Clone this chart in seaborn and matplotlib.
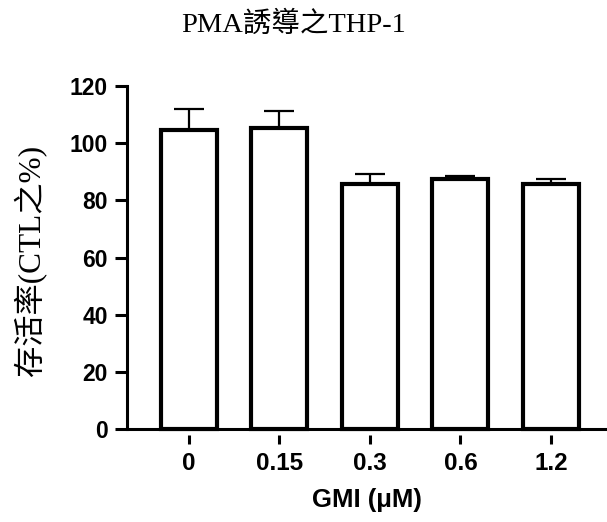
import pandas as pd
import matplotlib
matplotlib.use("Agg")
import matplotlib.pyplot as plt
import seaborn as sns

# Values
doses = ['0', '0.15', '0.3', '0.6', '1.2']
viability = [104.6, 105.2, 85.6, 87.5, 85.6]
sd = [7.4, 6.2, 3.5, 1.1, 1.9]

data = pd.DataFrame({'dose': doses, 'viability': viability})

sns.set_style("ticks")
plt.rcParams['axes.linewidth'] = 2.2
plt.rcParams['axes.edgecolor'] = 'black'
plt.rcParams['xtick.color'] = 'black'
plt.rcParams['ytick.color'] = 'black'
plt.rcParams['text.color'] = 'black'
plt.rcParams['axes.labelcolor'] = 'black'

fig = plt.figure(figsize=(6.07, 5.22), dpi=100)
ax = fig.add_axes([0.209, 0.1672, 0.791, 0.668])

sns.barplot(x='dose', y='viability', data=data, order=doses, color='white',
            edgecolor='black', linewidth=3, width=0.62, errorbar=None, ax=ax, zorder=3)

# upper error bars only, drawn behind the bars like Prism does
ax.errorbar(range(len(doses)), viability, yerr=[[0] * len(sd), sd], fmt='none',
            ecolor='black', elinewidth=1.6, capsize=11, capthick=1.6, zorder=2)

ax.set_xlim(-0.685, 4.62)
ax.set_ylim(-2, 120)
ax.set_yticks(range(0, 121, 20))
ax.spines['left'].set_bounds(0, 120)
ax.spines['bottom'].set_visible(False)
ax.spines['top'].set_visible(False)
ax.spines['right'].set_visible(False)
ax.axhline(0, xmin=0, xmax=1, color='black', lw=2.2, clip_on=False, zorder=4)

ax.tick_params(axis='y', length=8.6, width=2.2, pad=5)
ax.tick_params(axis='x', length=6.5, width=2.2, pad=6)
for lab in ax.get_yticklabels():
    lab.set_fontfamily('Liberation Sans')
    lab.set_fontweight('bold')
    lab.set_fontsize(16.5)
for lab in ax.get_xticklabels():
    lab.set_fontfamily('Liberation Sans')
    lab.set_fontweight('bold')
    lab.set_fontsize(17.5)

ax.set_xlabel('GMI (μM)', fontfamily='Liberation Sans', fontweight='bold', fontsize=18.5, labelpad=9)
ax.set_ylabel('存活率(CTL之%)', family=['Liberation Serif', 'Noto Sans CJK TC'], fontsize=22.5, labelpad=16)
fig.text(0.484, 0.952, 'PMA誘導之THP-1', family=['Liberation Serif', 'Noto Sans CJK TC'],
         fontsize=20.5, ha='center', va='center')

fig.savefig('out.png', dpi=100)
